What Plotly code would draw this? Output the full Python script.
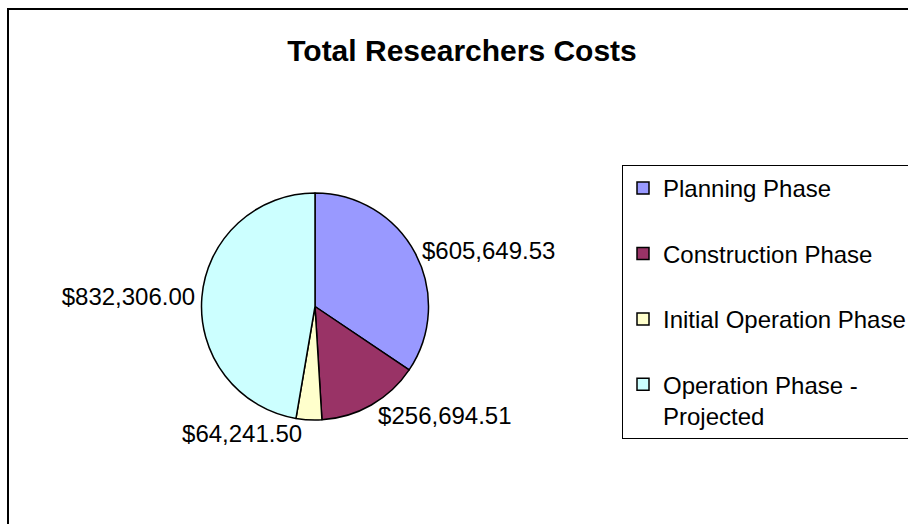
import plotly.graph_objects as go

categories = ["Planning Phase", "Construction Phase", "Initial Operation Phase", "Operation Phase -<br>Projected"]
values = [605649.53, 256694.51, 64241.50, 832306.00]
colors = ["#9999FF", "#993366", "#FFFFCC", "#CCFFFF"]

W, H = 908, 524
FONT = "Liberation Sans, Arial, sans-serif"

# legend entries padded to two lines so entries are spaced like the original
legend_labels = [c if "<br>" in c else c + "<br> " for c in categories]

cx, cy, r = 315, 306.5, 113.5

fig = go.Figure(go.Pie(
    labels=legend_labels,
    values=values,
    sort=False,
    direction="clockwise",
    rotation=0,
    marker=dict(colors=colors, line=dict(color="black", width=1.5)),
    textposition="outside",
    texttemplate="%{value:$,.2f}",
    textfont=dict(size=24, color="black", family=FONT),
    hoverinfo="label+value",
    domain=dict(x=[(cx - r) / W, (cx + r) / W], y=[1 - (cy + r) / H, 1 - (cy - r) / H]),
))

fig.update_layout(
    width=W, height=H,
    margin=dict(l=0, r=0, t=0, b=0, autoexpand=False),
    paper_bgcolor="white",
    font=dict(family=FONT, color="black"),
    title=dict(text="<b>Total Researchers Costs</b>", x=462 / W, xanchor="center",
               y=1 - 50 / H, yanchor="middle", yref="container",
               font=dict(size=30, color="black", family=FONT)),
    legend=dict(x=622 / W, y=1 - 165 / H, xanchor="left", yanchor="top",
                bordercolor="black", borderwidth=1, bgcolor="white",
                font=dict(size=24, color="black", family=FONT),
                valign="top", traceorder="normal"),
    shapes=[dict(type="rect", xref="paper", yref="paper",
                 x0=8 / W, x1=917 / W, y0=-0.05, y1=1 - 9 / H,
                 line=dict(color="black", width=2), fillcolor="rgba(0,0,0,0)", layer="below")],
)

fig.write_html("out.html")
